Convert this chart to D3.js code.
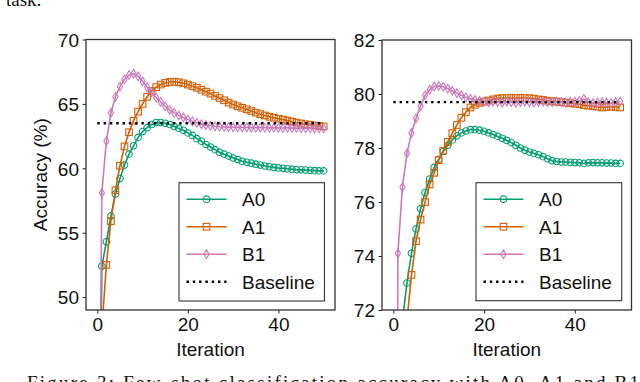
<!DOCTYPE html>
<html>
<head>
<meta charset="utf-8">
<script src="https://cdn.jsdelivr.net/npm/d3@7"></script>
<style>
  html, body { margin: 0; padding: 0; background: #fff; overflow: hidden; }
  svg { display: block; }
  .sans { font-family: "Liberation Sans", Arial, sans-serif; }
  .serif { font-family: "Liberation Serif", "Times New Roman", serif; }
</style>
</head>
<body>
<svg id="chart" width="640" height="382"></svg>
<script>
// iteration index 0..50 for every series
const iterations = d3.range(0, 51)
const seriesNames = ["A0", "A1", "B1"]
const baselineName = "Baseline"

// left panel
const leftA0 = [20, 52.4, 54.3, 56.3, 58.0, 59.2, 60.25, 61.1, 61.75, 62.4, 62.85,
    63.15, 63.4, 63.55, 63.55, 63.5, 63.4, 63.25, 63.1, 62.95, 62.75,
    62.55, 62.3, 62.1, 61.85, 61.65, 61.45, 61.25, 61.1, 60.95, 60.8,
    60.68, 60.55, 60.47, 60.4, 60.32, 60.25, 60.18, 60.12, 60.07, 60.03,
    60.0, 59.96, 59.93, 59.9, 59.88, 59.86, 59.84, 59.82, 59.8, 59.8]
const leftA1 = [20, 47.5, 52.5, 55.9, 58.3, 60.2, 61.7, 62.8, 63.7, 64.4, 65.0,
    65.55, 66.0, 66.3, 66.5, 66.63, 66.7, 66.72, 66.68, 66.6, 66.5,
    66.38, 66.25, 66.1, 65.95, 65.8, 65.62, 65.45, 65.28, 65.1, 64.95,
    64.82, 64.7, 64.58, 64.45, 64.32, 64.2, 64.1, 64.0, 63.92, 63.85,
    63.78, 63.7, 63.62, 63.55, 63.48, 63.42, 63.37, 63.32, 63.28, 63.25]
const leftB1 = [20, 58.1, 62.1, 64.3, 65.55, 66.35, 66.9, 67.25, 67.35, 67.15, 66.75,
    66.3, 65.9, 65.5, 65.15, 64.82, 64.52, 64.3, 64.1, 63.95, 63.8,
    63.65, 63.53, 63.43, 63.35, 63.3, 63.26, 63.23, 63.21, 63.2, 63.19,
    63.18, 63.17, 63.18, 63.16, 63.15, 63.16, 63.15, 63.14, 63.15, 63.14,
    63.13, 63.14, 63.12, 63.13, 63.12, 63.11, 63.12, 63.1, 63.1, 63.1]
const leftBaseline = 63.5
const leftYDomain = [49, 70]
const leftYTicks = [50, 55, 60, 65, 70]

// right panel
const rightA0 = [20, 60, 71.6, 73.0, 74.1, 75.0, 75.75, 76.35, 76.85, 77.28, 77.58,
    77.87, 78.1, 78.3, 78.45, 78.56, 78.63, 78.68, 78.68, 78.66, 78.62,
    78.56, 78.5, 78.43, 78.36, 78.28, 78.2, 78.1, 78.0, 77.92, 77.85,
    77.8, 77.75, 77.68, 77.6, 77.53, 77.5, 77.48, 77.48, 77.47, 77.46,
    77.45, 77.43, 77.45, 77.46, 77.45, 77.45, 77.44, 77.44, 77.43, 77.43]
const rightA1 = [20, 50, 64, 71.6, 73.3, 74.55, 75.35, 76.0, 76.65, 77.08, 77.55,
    77.9, 78.23, 78.55, 78.85, 79.12, 79.33, 79.5, 79.6, 79.67, 79.72,
    79.76, 79.8, 79.83, 79.85, 79.85, 79.86, 79.85, 79.86, 79.85, 79.84,
    79.83, 79.8, 79.78, 79.75, 79.73, 79.72, 79.7, 79.68, 79.66, 79.64,
    79.62, 79.58, 79.57, 79.55, 79.53, 79.5, 79.52, 79.53, 79.52, 79.5]
const rightB1 = [20, 74.1, 76.55, 77.8, 78.55, 79.1, 79.55, 79.95, 80.15, 80.28, 80.3,
    80.27, 80.2, 80.12, 80.03, 79.95, 79.88, 79.82, 79.78, 79.75, 79.72,
    79.7, 79.72, 79.7, 79.68, 79.72, 79.7, 79.68, 79.7, 79.72, 79.7,
    79.68, 79.7, 79.72, 79.7, 79.7, 79.72, 79.7, 79.68, 79.7, 79.72,
    79.75, 79.82, 79.7, 79.66, 79.68, 79.7, 79.68, 79.66, 79.7, 79.72]
const rightBaseline = 79.7
const rightYDomain = [72, 82]
const rightYTicks = [72, 74, 76, 78, 80, 82]

const xDomain = [-2.5, 52.5]
const xTicks = [0, 20, 40]

const colors = d3.scaleOrdinal()
    .domain(seriesNames)
    .range(["#029e73", "#d55e00", "#cc78bc"])

const fontSize = 19
const svg = d3.select("#chart")

// marker drawers, hollow like matplotlib's facecolor='none'
const markers = {
    A0: (g, c) => g.append("circle").attr("r", 3.3).attr("fill", "none").attr("stroke", c).attr("stroke-width", 1.1),
    A1: (g, c) => g.append("rect").attr("x", -3.3).attr("y", -3.3).attr("width", 6.6).attr("height", 6.6)
        .attr("fill", "none").attr("stroke", c).attr("stroke-width", 1.1),
    B1: (g, c) => g.append("path").attr("d", "M0,-4.3L2.6,0L0,4.3L-2.6,0Z")
        .attr("fill", "none").attr("stroke", c).attr("stroke-width", 1.1)
}

const drawPanel = (p) => {
    const x = d3.scaleLinear().domain(xDomain).range([p.left, p.right])
    const y = d3.scaleLinear().domain(p.yDomain).range([p.bottom, p.top])
    const g = svg.append("g")

    g.append("clipPath").attr("id", p.id + "-clip")
        .append("rect")
        .attr("x", p.left).attr("y", p.top)
        .attr("width", p.right - p.left).attr("height", p.bottom - p.top)

    const plot = g.append("g").attr("clip-path", `url(#${p.id}-clip)`)
    const line = d3.line().x((d, i) => x(iterations[i])).y(d => y(d))

    p.series.forEach((vals, k) => {
        const name = seriesNames[k]
        const c = colors(name)
        plot.append("path")
            .datum(vals)
            .attr("d", line)
            .attr("fill", "none")
            .attr("stroke", c)
            .attr("stroke-width", 1.6)
        vals.forEach((v, i) => {
            const m = plot.append("g").attr("transform", `translate(${x(iterations[i])},${y(v)})`)
            markers[name](m, c)
        })
    })

    plot.append("line")
        .attr("x1", x(iterations[0])).attr("x2", x(iterations[iterations.length - 1]))
        .attr("y1", y(p.baseline)).attr("y2", y(p.baseline))
        .attr("stroke", "#000")
        .attr("stroke-width", 2.4)
        .attr("stroke-dasharray", "2.4,3.9")

    // axes
    const xAxis = g.append("g")
        .attr("transform", `translate(0,${p.bottom})`)
        .call(d3.axisBottom(x).tickValues(xTicks).tickSize(3.5).tickPadding(4).tickSizeOuter(0))
    const yAxis = g.append("g")
        .attr("transform", `translate(${p.left},0)`)
        .call(d3.axisLeft(y).tickValues(p.yTicks).tickSize(3.5).tickPadding(3.5).tickSizeOuter(0))
    ;[xAxis, yAxis].forEach(a => {
        a.select(".domain").remove()
        a.selectAll("line").attr("stroke", "#222").attr("stroke-width", 1)
        a.selectAll("text").attr("class", "sans").attr("font-size", fontSize).attr("fill", "#111")
    })
    yAxis.selectAll("text").attr("dy", "0.36em")

    g.append("rect")
        .attr("x", p.left).attr("y", p.top)
        .attr("width", p.right - p.left).attr("height", p.bottom - p.top)
        .attr("fill", "none").attr("stroke", "#333").attr("stroke-width", 1.3)

    g.append("text").attr("class", "sans")
        .attr("x", (p.left + p.right) / 2).attr("y", 355.5)
        .attr("text-anchor", "middle").attr("font-size", fontSize).attr("fill", "#111")
        .text("Iteration")

    // legend
    const lg = g.append("g").attr("transform", `translate(${p.legend.x},${p.legend.y})`)
    lg.append("rect").attr("width", p.legend.w).attr("height", p.legend.h)
        .attr("fill", "#fff").attr("stroke", "#333").attr("stroke-width", 1.1)
    const rows = seriesNames.concat([baselineName])
    rows.forEach((name, i) => {
        const ry = 16.5 + i * 27.5
        const row = lg.append("g").attr("transform", `translate(0,${ry})`)
        if (name === baselineName) {
            row.append("line").attr("x1", 7.5).attr("x2", 47.5)
                .attr("stroke", "#000").attr("stroke-width", 2.4).attr("stroke-dasharray", "2.4,3.9")
        } else {
            row.append("line").attr("x1", 7.5).attr("x2", 47.5)
                .attr("stroke", colors(name)).attr("stroke-width", 1.6)
            markers[name](row.append("g").attr("transform", "translate(27.5,0)"), colors(name))
        }
        row.append("text").attr("class", "sans")
            .attr("x", 63).attr("dy", "0.36em")
            .attr("font-size", fontSize).attr("fill", "#111")
            .text(name)
    })
    return { x, y }
}

drawPanel({
    id: "left", left: 86, right: 335, top: 39.5, bottom: 310,
    yDomain: leftYDomain, yTicks: leftYTicks,
    series: [leftA0, leftA1, leftB1], baseline: leftBaseline,
    legend: { x: 179, y: 182.7, w: 145.5, h: 118.3 }
})
drawPanel({
    id: "right", left: 382, right: 631.5, top: 40, bottom: 310,
    yDomain: rightYDomain, yTicks: rightYTicks,
    series: [rightA0, rightA1, rightB1], baseline: rightBaseline,
    legend: { x: 476, y: 182.7, w: 145.7, h: 118 }
})

svg.append("text").attr("class", "sans")
    .attr("transform", "translate(46.5,174.7) rotate(-90)")
    .attr("text-anchor", "middle").attr("font-size", fontSize).attr("fill", "#111")
    .text("Accuracy (%)")

// caption fragments from the surrounding page
svg.append("text").attr("class", "serif")
    .attr("x", 6).attr("y", 6).attr("font-size", 19).attr("fill", "#111")
    .text("task.")
svg.append("text").attr("class", "serif")
    .attr("x", 27).attr("y", 388.5).attr("font-size", 19).attr("fill", "#111")
    .attr("textLength", 612).attr("lengthAdjust", "spacing")
    .text("Figure 3: Few-shot classification accuracy with A0, A1 and B1")
</script>
</body>
</html>
